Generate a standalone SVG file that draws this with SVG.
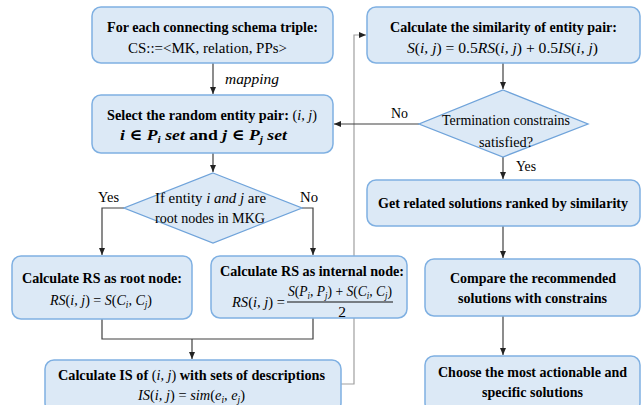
<svg xmlns="http://www.w3.org/2000/svg" width="641" height="405" viewBox="0 0 641 405">
  <style>
    .box { fill: #dce9f6; stroke: #7fb0e2; stroke-width: 1.5; }
    .dia { fill: #dce9f6; stroke: #6fa3da; stroke-width: 1.3; }
    .b { font-family: "Liberation Serif", "DejaVu Serif", serif; font-weight: bold; font-size: 15.5px; fill: #000; }
    .r { font-family: "Liberation Serif", "DejaVu Serif", serif; font-size: 15.5px; fill: #000; }
    .m { font-family: "Liberation Serif", "DejaVu Serif", serif; font-style: italic; font-size: 15.5px; fill: #000; }
    .up { font-style: normal; }
    .conn { fill: none; stroke: #404040; stroke-width: 1.2; }
    .loop { fill: none; stroke: #a0a0a0; stroke-width: 1.2; }
  </style>
  <defs>
    <marker id="arr" markerWidth="8" markerHeight="8" refX="7" refY="4" orient="auto" markerUnits="userSpaceOnUse">
      <path d="M0,1 L7,4 L0,7 Z" fill="#222"/>
    </marker>
  </defs>
  <rect width="641" height="405" fill="#ffffff"/>

  <!-- connectors -->
  <g id="connectors">
    <line class="conn" x1="213" y1="63" x2="213" y2="94" marker-end="url(#arr)"/>
    <line class="conn" x1="213" y1="153" x2="213" y2="172" marker-end="url(#arr)"/>
    <polyline class="conn" points="124,208 102,208 102,255" marker-end="url(#arr)"/>
    <polyline class="conn" points="302,208 313,208 313,255" marker-end="url(#arr)"/>
    <polyline class="conn" points="102,319 102,339 313,339 313,318"/>
    <line class="conn" x1="192" y1="339" x2="192" y2="359" marker-end="url(#arr)"/>
    <polyline class="loop" points="341,384 354,384 354,35 366,35" marker-end="url(#arr)"/>
    <line class="conn" x1="503" y1="63" x2="503" y2="89" marker-end="url(#arr)"/>
    <line class="conn" x1="419" y1="124" x2="334" y2="124" marker-end="url(#arr)"/>
    <line class="conn" x1="503" y1="157" x2="503" y2="179" marker-end="url(#arr)"/>
    <line class="conn" x1="503" y1="226" x2="503" y2="258" marker-end="url(#arr)"/>
    <line class="conn" x1="503" y1="316" x2="503" y2="355" marker-end="url(#arr)"/>
    <text class="m" x="225" y="84" textLength="54" lengthAdjust="spacingAndGlyphs">mapping</text>
    <text class="r" x="98" y="202" textLength="21" lengthAdjust="spacingAndGlyphs">Yes</text>
    <text class="r" x="300" y="202" textLength="18" lengthAdjust="spacingAndGlyphs">No</text>
    <text class="r" x="391" y="118" textLength="17" lengthAdjust="spacingAndGlyphs">No</text>
    <text class="r" x="516" y="171" textLength="20" lengthAdjust="spacingAndGlyphs">Yes</text>
  </g>

  <g id="schema-triple">
    <rect class="box" x="92" y="7" width="241" height="56" rx="9"/>
    <text class="b" x="107" y="32" textLength="211" lengthAdjust="spacingAndGlyphs">For each connecting schema triple:</text>
    <text class="r" x="128" y="53" textLength="159" lengthAdjust="spacingAndGlyphs">CS::=&lt;MK, relation, PPs&gt;</text>
  </g>

  <g id="select-pair">
    <rect class="box" x="92" y="95" width="241" height="58" rx="9"/>
    <text class="b" x="107" y="120" textLength="210" lengthAdjust="spacingAndGlyphs">Select the random entity pair: <tspan class="m up" font-weight="normal">(</tspan><tspan class="m" font-weight="normal">i, j</tspan><tspan class="m up" font-weight="normal">)</tspan></text>
    <text class="b" x="120" y="140" textLength="167" lengthAdjust="spacingAndGlyphs"><tspan font-style="italic">i</tspan> ∈ <tspan font-style="italic">P</tspan><tspan font-style="italic" font-size="10" dy="3">i</tspan><tspan font-style="italic" dy="-3"> set</tspan> and <tspan font-style="italic">j</tspan> ∈ <tspan font-style="italic">P</tspan><tspan font-style="italic" font-size="10" dy="3">j</tspan><tspan font-style="italic" dy="-3"> set</tspan></text>
  </g>

  <g id="root-check">
    <polygon class="dia" points="213,173 302,208 213,243 124,208"/>
    <text class="r" x="155" y="203" textLength="111" lengthAdjust="spacingAndGlyphs">If entity <tspan font-style="italic">i and j</tspan> are</text>
    <text class="r" x="155" y="223" textLength="110" lengthAdjust="spacingAndGlyphs">root nodes in MKG</text>
  </g>

  <g id="rs-root">
    <rect class="box" x="12" y="256" width="180" height="63" rx="9"/>
    <text class="b" x="22" y="283" textLength="160" lengthAdjust="spacingAndGlyphs">Calculate RS as root node:</text>
    <text class="m" x="50" y="305" textLength="102" lengthAdjust="spacingAndGlyphs">RS<tspan class="up">(</tspan>i, j<tspan class="up">) = </tspan>S<tspan class="up">(</tspan>C<tspan font-size="10" dy="3">i</tspan><tspan dy="-3">, C</tspan><tspan font-size="10" dy="3">j</tspan><tspan class="up" dy="-3">)</tspan></text>
  </g>

  <g id="rs-internal">
    <rect class="box" x="211" y="256" width="196" height="62" rx="9"/>
    <text class="b" x="220" y="276" textLength="184" lengthAdjust="spacingAndGlyphs">Calculate RS as internal  node:</text>
    <text class="m" x="232" y="307" textLength="53" lengthAdjust="spacingAndGlyphs">RS<tspan class="up">(</tspan>i, j<tspan class="up">) =</tspan></text>
    <text class="m" x="288" y="296" textLength="104" lengthAdjust="spacingAndGlyphs">S<tspan class="up">(</tspan>P<tspan font-size="10" dy="3">i</tspan><tspan dy="-3">, P</tspan><tspan font-size="10" dy="3">j</tspan><tspan class="up" dy="-3">) + </tspan>S<tspan class="up">(</tspan>C<tspan font-size="10" dy="3">i</tspan><tspan dy="-3">, C</tspan><tspan font-size="10" dy="3">j</tspan><tspan class="up" dy="-3">)</tspan></text>
    <line x1="287" y1="302" x2="393" y2="302" stroke="#111" stroke-width="1"/>
    <text class="r" x="342" y="317" text-anchor="middle">2</text>
  </g>

  <g id="is-calc">
    <rect class="box" x="45" y="360" width="296" height="52" rx="9"/>
    <text class="b" x="58" y="380" textLength="267" lengthAdjust="spacingAndGlyphs">Calculate IS of <tspan class="m" font-weight="normal"><tspan class="up">(</tspan>i, j<tspan class="up">)</tspan></tspan> with sets of descriptions</text>
    <text class="m" x="138" y="400" textLength="107" lengthAdjust="spacingAndGlyphs">IS<tspan class="up">(</tspan>i, j<tspan class="up">) = </tspan>sim<tspan class="up">(</tspan>e<tspan font-size="10" dy="3">i</tspan><tspan dy="-3">, e</tspan><tspan font-size="10" dy="3">j</tspan><tspan class="up" dy="-3">)</tspan></text>
  </g>

  <g id="similarity">
    <rect class="box" x="367" y="7" width="273" height="56" rx="9"/>
    <text class="b" x="390" y="32" textLength="227" lengthAdjust="spacingAndGlyphs">Calculate the similarity of entity pair:</text>
    <text class="m" x="407" y="53" textLength="191" lengthAdjust="spacingAndGlyphs">S<tspan class="up">(</tspan>i, j<tspan class="up">) = 0.5</tspan>RS<tspan class="up">(</tspan>i, j<tspan class="up">) + 0.5</tspan>IS<tspan class="up">(</tspan>i, j<tspan class="up">)</tspan></text>
  </g>

  <g id="termination">
    <polygon class="dia" points="503,90 588,124 503,157 419,124"/>
    <text class="r" x="442" y="125" textLength="128" lengthAdjust="spacingAndGlyphs">Termination constrains</text>
    <text class="r" x="479" y="147" textLength="54" lengthAdjust="spacingAndGlyphs">satisfied?</text>
  </g>

  <g id="ranked">
    <rect class="box" x="367" y="180" width="273" height="46" rx="9"/>
    <text class="b" x="378" y="208" textLength="250" lengthAdjust="spacingAndGlyphs">Get related solutions ranked by similarity</text>
  </g>

  <g id="compare">
    <rect class="box" x="425" y="259" width="215" height="57" rx="9"/>
    <text class="b" x="450" y="283" textLength="166" lengthAdjust="spacingAndGlyphs">Compare the recommended</text>
    <text class="b" x="458" y="303" textLength="149" lengthAdjust="spacingAndGlyphs">solutions with constrains</text>
  </g>

  <g id="choose">
    <rect class="box" x="425" y="356" width="215" height="56" rx="9"/>
    <text class="b" x="438" y="377" textLength="189" lengthAdjust="spacingAndGlyphs">Choose the most actionable and</text>
    <text class="b" x="482" y="397" textLength="101" lengthAdjust="spacingAndGlyphs">specific solutions</text>
  </g>
</svg>
